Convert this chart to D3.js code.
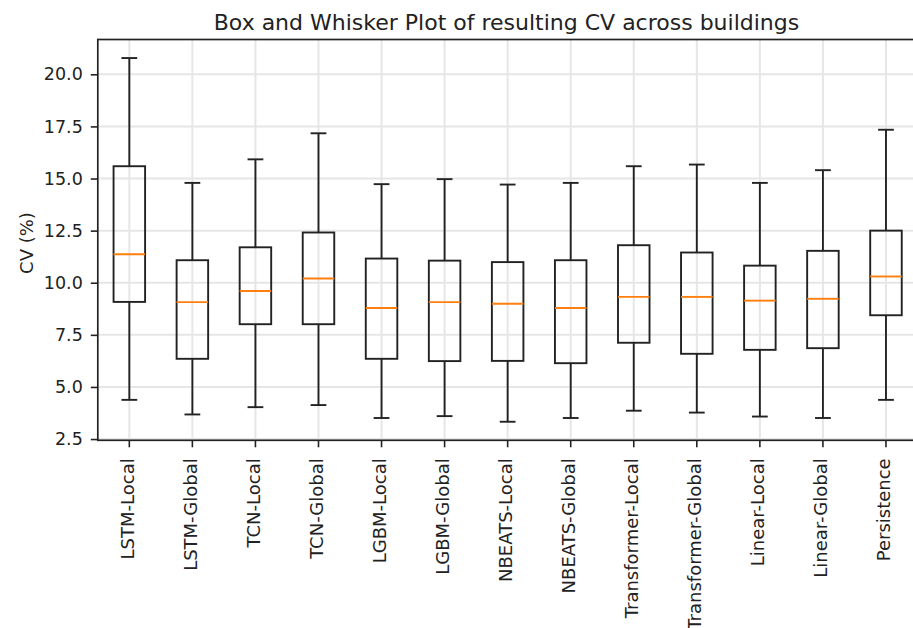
<!DOCTYPE html>
<html>
<head>
<meta charset="utf-8">
<script src="https://cdn.jsdelivr.net/npm/d3@7"></script>
<style>
  body { margin: 0; background: #fff; }
  svg, svg text { font-family: "DejaVu Sans", sans-serif; }
  svg { display: block; }
</style>
</head>
<body>
<div id="chart"></div>
<script>
// box plot stats (CV %)
var models = ['LSTM-Local', 'LSTM-Global', 'TCN-Local', 'TCN-Global', 'LGBM-Local', 'LGBM-Global',
              'NBEATS-Local', 'NBEATS-Global', 'Transformer-Local', 'Transformer-Global',
              'Linear-Local', 'Linear-Global', 'Persistence'];
var whiskLow  = [4.38, 3.68, 4.03, 4.13, 3.51, 3.60, 3.33, 3.51, 3.86, 3.77, 3.58, 3.51, 4.38];
var q1        = [9.08, 6.35, 8.01, 8.01, 6.35, 6.24, 6.25, 6.14, 7.12, 6.59, 6.78, 6.86, 8.44];
var medians   = [11.37, 9.07, 9.60, 10.20, 8.79, 9.07, 8.99, 8.79, 9.32, 9.32, 9.14, 9.23, 10.30];
var q3        = [15.59, 11.08, 11.70, 12.41, 11.16, 11.06, 10.99, 11.08, 11.80, 11.45, 10.82, 11.53, 12.50];
var whiskHigh = [20.78, 14.79, 15.92, 17.17, 14.73, 14.97, 14.71, 14.79, 15.59, 15.67, 14.79, 15.40, 17.34];
var yTicks = [2.5, 5.0, 7.5, 10.0, 12.5, 15.0, 17.5, 20.0];

var width = 913, height = 628;
var plotL = 97.8, plotR = 917.5, plotT = 39.5, plotB = 440.3;

var rows = models.map(function(m, i) {
    return { name: m, lo: whiskLow[i], q1: q1[i], med: medians[i], q3: q3[i], hi: whiskHigh[i] };
});

var x = d3.scaleBand().domain(models).range([plotL, plotR]).paddingInner(0).paddingOuter(0);
var y = d3.scaleLinear().domain([2.44, 21.67]).range([plotB, plotT]);
var cx = function(d) { return x(d.name) + x.bandwidth() / 2; };
var boxW = x.bandwidth() * 0.5, capW = x.bandwidth() * 0.25;

var svg = d3.select('#chart').append('svg')
    .attr('width', width)
    .attr('height', height);

// grid
var grid = svg.append('g').attr('stroke', '#e6e6e6').attr('stroke-width', 2);
grid.selectAll('.gy').data(yTicks).enter().append('line')
    .attr('x1', plotL).attr('x2', plotR)
    .attr('y1', function(d) { return y(d); }).attr('y2', function(d) { return y(d); });
grid.selectAll('.gx').data(rows).enter().append('line')
    .attr('x1', cx).attr('x2', cx)
    .attr('y1', plotT).attr('y2', plotB);

// axes
var yAxis = d3.axisLeft(y).tickValues(yTicks).tickFormat(d3.format('.1f')).tickSize(7).tickPadding(8);
var xAxis = d3.axisBottom(x).tickSize(7).tickPadding(4);

var gy = svg.append('g').attr('transform', 'translate(' + plotL + ',0)').call(yAxis);
var gx = svg.append('g').attr('transform', 'translate(0,' + plotB + ')').call(xAxis);
[gx, gy].forEach(function(g) {
    g.attr('font-family', '"DejaVu Sans", sans-serif');
    g.select('.domain').remove();
    g.selectAll('.tick line').attr('stroke', '#222').attr('stroke-width', 1.6);
    g.selectAll('.tick text').attr('fill', '#222');
});
gy.attr('font-size', 17.5);
gx.attr('font-size', 18);
gx.selectAll('.tick text')
    .attr('transform', 'rotate(-90)')
    .attr('text-anchor', 'end')
    .attr('x', -18).attr('y', 0).attr('dy', '0.25em');

// frame
svg.append('rect')
    .attr('x', plotL).attr('y', plotT)
    .attr('width', plotR - plotL).attr('height', plotB - plotT)
    .attr('fill', 'none').attr('stroke', '#222').attr('stroke-width', 1.7);

// boxes
var box = svg.append('g').selectAll('g').data(rows).enter().append('g');
box.append('line')
    .attr('x1', cx).attr('x2', cx)
    .attr('y1', function(d) { return y(d.q3); }).attr('y2', function(d) { return y(d.hi); });
box.append('line')
    .attr('x1', cx).attr('x2', cx)
    .attr('y1', function(d) { return y(d.q1); }).attr('y2', function(d) { return y(d.lo); });
box.append('line')
    .attr('x1', function(d) { return cx(d) - capW / 2; }).attr('x2', function(d) { return cx(d) + capW / 2; })
    .attr('y1', function(d) { return y(d.hi); }).attr('y2', function(d) { return y(d.hi); });
box.append('line')
    .attr('x1', function(d) { return cx(d) - capW / 2; }).attr('x2', function(d) { return cx(d) + capW / 2; })
    .attr('y1', function(d) { return y(d.lo); }).attr('y2', function(d) { return y(d.lo); });
box.append('rect')
    .attr('x', function(d) { return cx(d) - boxW / 2; })
    .attr('y', function(d) { return y(d.q3); })
    .attr('width', boxW)
    .attr('height', function(d) { return y(d.q1) - y(d.q3); })
    .attr('fill', 'none');
box.selectAll('line, rect').attr('stroke', '#222').attr('stroke-width', 1.9);
box.append('line')
    .attr('x1', function(d) { return cx(d) - boxW / 2; }).attr('x2', function(d) { return cx(d) + boxW / 2; })
    .attr('y1', function(d) { return y(d.med); }).attr('y2', function(d) { return y(d.med); })
    .attr('stroke', '#ff7f0e').attr('stroke-width', 1.9);

// labels
svg.append('text')
    .attr('x', (212 + 801) / 2).attr('y', 29.5)
    .attr('text-anchor', 'middle')
    .attr('fill', '#222')
    .style('font-size', '22px')
    .text('Box and Whisker Plot of resulting CV across buildings');

svg.append('text')
    .attr('transform', 'translate(33,243) rotate(-90)')
    .attr('text-anchor', 'middle')
    .attr('fill', '#222')
    .style('font-size', '18px')
    .text('CV (%)');
</script>
</body>
</html>
